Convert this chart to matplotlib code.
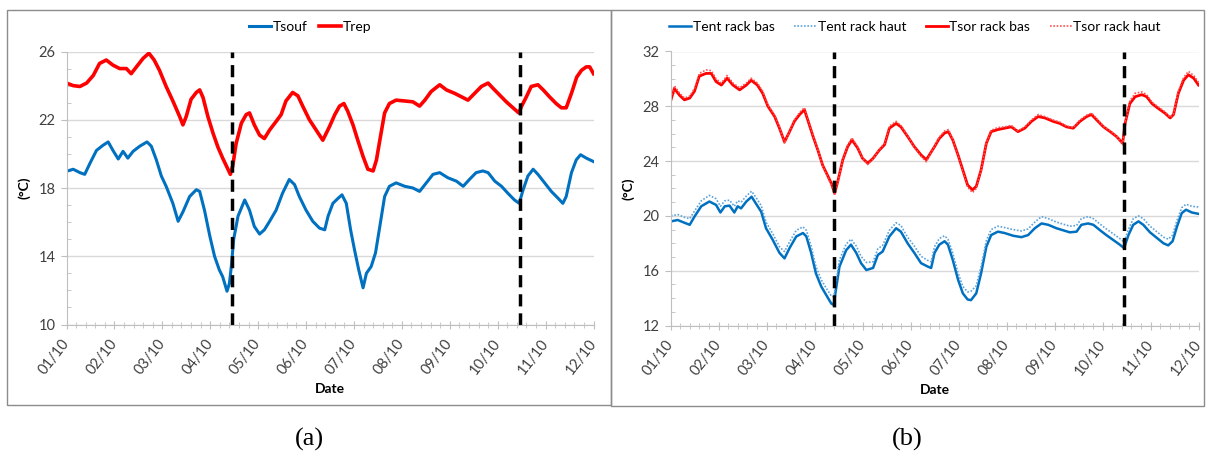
import matplotlib
matplotlib.use('Agg')
import matplotlib.pyplot as plt
from matplotlib.patches import Rectangle
from matplotlib.ticker import MultipleLocator

plt.rcParams['font.family'] = ['Lato', 'DejaVu Sans']

# jours (0 = 01/10) et températures
jours_lbl = ['01/10', '02/10', '03/10', '04/10', '05/10', '06/10',
             '07/10', '08/10', '09/10', '10/10', '11/10', '12/10']

# (a) Trep
t_rep = [0, .14, .28, .42, .56, .69, .83, .97, 1.11, 1.25, 1.35, 1.46, 1.6, 1.72, 1.83, 1.94,
         2.08, 2.22, 2.36, 2.43, 2.5, 2.6, 2.71, 2.78, 2.85, 2.95, 3.06, 3.16, 3.26, 3.37, 3.42,
         3.47, 3.54, 3.65, 3.75, 3.82, 3.92, 4.03, 4.13, 4.24, 4.375, 4.48, 4.58, 4.72, 4.83,
         4.93, 5.07, 5.21, 5.35, 5.49, 5.6, 5.7, 5.79, 5.87, 5.98, 6.08, 6.19, 6.29, 6.4, 6.47,
         6.54, 6.64, 6.74, 6.88, 7.06, 7.23, 7.37, 7.48, 7.61, 7.79, 7.93, 8.1, 8.24, 8.38,
         8.52, 8.66, 8.8, 8.9, 9.04, 9.18, 9.32, 9.44, 9.5, 9.6, 9.7, 9.84, 9.95, 10.08, 10.22,
         10.33, 10.43, 10.54, 10.65, 10.75, 10.85, 10.92, 11.0]
trep = [24.15, 24.0, 23.95, 24.15, 24.6, 25.3, 25.5, 25.2, 25.0, 25.0, 24.7, 25.1, 25.6, 25.9,
        25.5, 24.9, 23.95, 23.1, 22.2, 21.7, 22.2, 23.2, 23.6, 23.75, 23.3, 22.2, 21.2, 20.4,
        19.75, 19.1, 18.8, 19.3, 20.6, 21.8, 22.3, 22.4, 21.7, 21.1, 20.9, 21.4, 21.9, 22.3,
        23.1, 23.6, 23.4, 22.8, 22.0, 21.4, 20.8, 21.6, 22.3, 22.8, 22.95, 22.5, 21.7, 20.8,
        19.85, 19.1, 19.0, 19.65, 20.8, 22.4, 22.95, 23.15, 23.1, 23.05, 22.8, 23.15, 23.65,
        24.05, 23.75, 23.55, 23.35, 23.15, 23.55, 23.95, 24.15, 23.85, 23.45, 23.05, 22.7,
        22.4, 22.8, 23.35, 23.95, 24.05, 23.75, 23.35, 22.95, 22.7, 22.7, 23.55, 24.5, 24.9,
        25.1, 25.1, 24.7]

# (a) Tsouf
t_souf = [0, .14, .28, .38, .49, .625, .76, .87, .97, 1.08, 1.18, 1.28, 1.39, 1.53, 1.68, 1.77,
          1.875, 1.98, 2.08, 2.22, 2.33, 2.43, 2.57, 2.71, 2.78, 2.88, 2.99, 3.09, 3.19, 3.26,
          3.35, 3.40, 3.44, 3.49, 3.58, 3.72, 3.82, 3.92, 4.03, 4.13, 4.24, 4.375, 4.51, 4.65,
          4.76, 4.86, 5.0, 5.14, 5.28, 5.39, 5.46, 5.56, 5.67, 5.75, 5.84, 5.93, 6.01, 6.1,
          6.19, 6.26, 6.36, 6.45, 6.54, 6.64, 6.74, 6.88, 7.06, 7.23, 7.37, 7.51, 7.65, 7.79,
          7.96, 8.14, 8.28, 8.41, 8.55, 8.69, 8.8, 8.94, 9.08, 9.21, 9.35, 9.45, 9.52, 9.63,
          9.74, 9.84, 9.98, 10.12, 10.26, 10.36, 10.43, 10.54, 10.64, 10.73, 10.85, 11.0]
tsouf = [18.98, 19.1, 18.9, 18.8, 19.45, 20.2, 20.5, 20.7, 20.2, 19.7, 20.15, 19.75, 20.15,
         20.45, 20.7, 20.45, 19.65, 18.7, 18.1, 17.1, 16.05, 16.6, 17.5, 17.9, 17.8, 16.7,
         15.2, 14.0, 13.2, 12.8, 11.95, 12.4, 13.4, 15.0, 16.35, 17.3, 16.7, 15.75, 15.3,
         15.55, 16.05, 16.7, 17.7, 18.5, 18.2, 17.5, 16.7, 16.05, 15.65, 15.55, 16.35, 17.1,
         17.4, 17.6, 17.1, 15.55, 14.4, 13.2, 12.15, 13.0, 13.4, 14.2, 15.75, 17.5, 18.1, 18.3,
         18.1, 18.0, 17.8, 18.3, 18.8, 18.9, 18.6, 18.4, 18.1, 18.5, 18.9, 19.0, 18.9, 18.4,
         18.1, 17.7, 17.3, 17.1, 17.8, 18.7, 19.1, 18.8, 18.3, 17.8, 17.4, 17.1, 17.5, 18.9,
         19.65, 19.95, 19.75, 19.55]

# (b) Tsor rack bas / haut
t_sor = [0.01, .08, .19, .29, .40, .5, .6, .74, .85, .95, 1.06, 1.18, 1.3, 1.44, 1.58, 1.68,
         1.81, 1.92, 2.03, 2.17, 2.27, 2.375, 2.48, 2.58, 2.69, 2.79, 2.86, 2.97, 3.07, 3.17,
         3.28, 3.36, 3.42, 3.49, 3.59, 3.69, 3.78, 3.9, 4.0, 4.11, 4.22, 4.35, 4.46, 4.56, 4.7,
         4.8, 4.94, 5.08, 5.22, 5.33, 5.5, 5.6, 5.71, 5.79, 5.88, 5.99, 6.09, 6.19, 6.29, 6.37,
         6.47, 6.58, 6.68, 6.82, 6.96, 7.1, 7.24, 7.38, 7.52, 7.66, 7.8, 7.97, 8.11, 8.25,
         8.39, 8.53, 8.67, 8.77, 8.88, 9.02, 9.16, 9.29, 9.42, 9.47, 9.57, 9.68, 9.82, 9.92,
         10.03, 10.16, 10.3, 10.41, 10.48, 10.58, 10.69, 10.79, 10.9, 11.0]
tsor_bas = [28.47, 29.3, 28.8, 28.47, 28.6, 29.1, 30.2, 30.4, 30.4, 29.8, 29.55, 30.05, 29.55,
            29.2, 29.55, 29.9, 29.55, 28.95, 28.0, 27.25, 26.4, 25.4, 26.15, 26.9, 27.4, 27.75,
            27.0, 25.8, 24.8, 23.7, 22.9, 22.3, 21.65, 22.6, 24.1, 25.05, 25.55, 24.95, 24.2,
            23.85, 24.2, 24.8, 25.2, 26.4, 26.75, 26.5, 25.8, 25.05, 24.45, 24.1, 25.05, 25.65,
            26.05, 26.15, 25.55, 24.45, 23.35, 22.25, 21.9, 22.15, 23.35, 25.3, 26.15, 26.3,
            26.4, 26.5, 26.15, 26.4, 26.9, 27.25, 27.15, 26.9, 26.75, 26.5, 26.4, 26.9, 27.25,
            27.4, 27.0, 26.5, 26.15, 25.8, 25.3, 26.75, 28.2, 28.7, 28.85, 28.7, 28.2, 27.85,
            27.5, 27.15, 27.4, 28.95, 29.9, 30.3, 30.05, 29.55]
tsor_haut = [28.6, 29.5, 28.95, 28.6, 28.75, 29.3, 30.4, 30.65, 30.6, 30.0, 29.7, 30.25, 29.7,
             29.35, 29.7, 30.05, 29.7, 29.1, 28.1, 27.35, 26.5, 25.3, 26.2, 27.0, 27.55, 27.9,
             27.1, 25.85, 24.85, 23.65, 22.8, 22.15, 21.5, 22.5, 24.15, 25.15, 25.7, 25.05,
             24.2, 23.75, 24.15, 24.85, 25.3, 26.55, 26.9, 26.6, 25.85, 25.0, 24.35, 23.95,
             25.1, 25.75, 26.2, 26.3, 25.6, 24.4, 23.25, 22.1, 21.7, 22.0, 23.3, 25.35, 26.25,
             26.45, 26.5, 26.6, 26.2, 26.5, 27.0, 27.4, 27.25, 27.0, 26.85, 26.55, 26.45, 27.0,
             27.35, 27.5, 27.1, 26.55, 26.2, 25.85, 25.2, 26.8, 28.4, 28.95, 29.05, 28.85, 28.3,
             27.95, 27.6, 27.2, 27.45, 29.1, 30.1, 30.55, 30.25, 29.75]

# (b) Tent rack bas / haut
t_ent = [0.01, .15, .29, .40, .5, .64, .81, .95, 1.04, 1.13, 1.23, 1.33, 1.40, 1.47, 1.58, 1.69,
         1.78, 1.89, 1.99, 2.13, 2.27, 2.375, 2.48, 2.62, 2.76, 2.83, 2.93, 3.03, 3.14, 3.24,
         3.35, 3.40, 3.45, 3.52, 3.66, 3.76, 3.87, 3.97, 4.08, 4.22, 4.32, 4.42, 4.56, 4.7,
         4.8, 4.94, 5.08, 5.22, 5.36, 5.43, 5.5, 5.6, 5.71, 5.78, 5.88, 5.99, 6.09, 6.19, 6.26,
         6.37, 6.47, 6.58, 6.68, 6.82, 6.96, 7.14, 7.31, 7.45, 7.59, 7.73, 7.87, 8.04, 8.18,
         8.32, 8.46, 8.56, 8.7, 8.81, 8.95, 9.08, 9.22, 9.36, 9.45, 9.54, 9.64, 9.75, 9.85,
         9.99, 10.13, 10.27, 10.37, 10.46, 10.55, 10.65, 10.74, 10.86, 11.0]
tent_bas = [19.6, 19.7, 19.5, 19.35, 19.95, 20.7, 21.05, 20.8, 20.25, 20.7, 20.75, 20.25, 20.7,
            20.55, 21.05, 21.4, 20.9, 20.3, 19.1, 18.25, 17.3, 16.9, 17.65, 18.5, 18.75, 18.5,
            17.3, 15.8, 14.85, 14.25, 13.6, 13.5, 14.7, 16.3, 17.5, 17.9, 17.3, 16.55, 16.05,
            16.2, 17.15, 17.4, 18.5, 19.1, 18.85, 18.0, 17.3, 16.55, 16.3, 16.2, 17.3, 17.9,
            18.15, 17.9, 16.8, 15.35, 14.35, 13.9, 13.85, 14.35, 15.8, 17.75, 18.6, 18.85,
            18.75, 18.55, 18.45, 18.6, 19.1, 19.45, 19.35, 19.1, 18.95, 18.8, 18.85, 19.35,
            19.45, 19.35, 18.95, 18.6, 18.25, 17.9, 17.65, 18.6, 19.35, 19.6, 19.35, 18.8, 18.4,
            18.0, 17.85, 18.15, 19.2, 20.2, 20.45, 20.25, 20.15]
tent_haut = [20.0, 20.1, 19.9, 19.8, 20.35, 21.1, 21.5, 21.25, 20.7, 21.1, 21.15, 20.7, 21.1,
             21.0, 21.45, 21.8, 21.35, 20.75, 19.55, 18.7, 17.75, 17.4, 18.1, 18.95, 19.2,
             18.95, 17.8, 16.3, 15.35, 14.75, 14.15, 14.1, 15.2, 16.8, 17.95, 18.3, 17.8, 17.05,
             16.6, 16.65, 17.6, 17.85, 18.95, 19.5, 19.3, 18.45, 17.8, 17.05, 16.75, 16.65,
             17.75, 18.35, 18.55, 18.3, 17.3, 15.85, 14.85, 14.45, 14.5, 14.9, 16.3, 18.2, 19.0,
             19.25, 19.15, 19.0, 18.9, 19.05, 19.55, 19.95, 19.8, 19.55, 19.4, 19.25, 19.3,
             19.8, 19.95, 19.8, 19.4, 19.05, 18.7, 18.35, 18.1, 19.0, 19.8, 20.0, 19.8, 19.25,
             18.85, 18.45, 18.3, 18.6, 19.65, 20.6, 20.85, 20.7, 20.65]

# coupures (lignes pointillées verticales)
coupures_a = [3.45, 9.47]
coupures_b = [3.40, 9.45]

BLEU = '#0070C0'
ROUGE = '#FF0000'
GRIS_TXT = '#404040'

fig = plt.figure(figsize=(12.06, 4.54), dpi=100)
W, H = 1206, 454


def px_axes(x0, x1, y0, y1):
    return fig.add_axes([x0 / W, 1 - y1 / H, (x1 - x0) / W, (y1 - y0) / H])


def habiller(ax, ymin, ymax):
    ax.set_xlim(0, 11)
    ax.set_ylim(ymin, ymax)
    ax.set_xticks(range(12))
    ax.set_xticklabels(jours_lbl, rotation=52, ha='right', va='center', rotation_mode='anchor',
                       fontsize=10.5, color=GRIS_TXT)
    ax.xaxis.set_minor_locator(MultipleLocator(0.2))
    ax.set_yticks(range(ymin, ymax + 1, 4))
    ax.yaxis.set_minor_locator(MultipleLocator(1))
    ax.tick_params(axis='y', labelsize=10.5, labelcolor=GRIS_TXT, color='#bfbfbf', length=4, pad=4)
    ax.tick_params(axis='y', which='minor', color='#bfbfbf', length=3, direction='in')
    ax.tick_params(axis='x', color='#bfbfbf', length=6, pad=9, direction='inout')
    ax.tick_params(axis='x', which='minor', color='#bfbfbf', length=4, direction='inout')
    ax.grid(axis='y', color='#d9d9d9', linewidth=1)
    ax.set_axisbelow(True)
    for s in ['top', 'right']:
        ax.spines[s].set_visible(False)
    for s in ['left', 'bottom']:
        ax.spines[s].set_color('#bfbfbf')
    ax.set_xlabel('Date', fontsize=10, fontweight='bold', labelpad=4)
    ax.set_ylabel('(°C)', fontsize=10, fontweight='bold', labelpad=6)


# cadres
fig.patches.append(Rectangle((7 / W, 1 - 405 / H), 604 / W, 395 / H, transform=fig.transFigure,
                             fill=False, edgecolor='#8c8c8c', linewidth=1))
fig.patches.append(Rectangle((611 / W, 1 - 406 / H), 593 / W, 396 / H, transform=fig.transFigure,
                             fill=False, edgecolor='#8c8c8c', linewidth=1))

# ---- (a)
ax1 = px_axes(66.5, 593.5, 51.5, 324.5)
l1, = ax1.plot(t_souf, tsouf, color=BLEU, linewidth=2.2, label='Tsouf')
l2, = ax1.plot(t_rep, trep, color=ROUGE, linewidth=2.6, label='Trep')
for c in coupures_a:
    ax1.axvline(c, color='black', linewidth=2.5, linestyle=(0, (3.5, 2)))
habiller(ax1, 10, 26)
fig.legend(handles=[l1, l2], loc='center', bbox_to_anchor=(310 / W, 1 - 27 / H), ncol=2,
           frameon=False, fontsize=10, handlelength=1.6, handletextpad=0.1, columnspacing=0.8)

# ---- (b)
ax2 = px_axes(670.5, 1198.5, 51.5, 325.5)
m1, = ax2.plot(t_ent, tent_bas, color=BLEU, linewidth=1.8, label='Tent rack bas')
m2, = ax2.plot(t_ent, tent_haut, color='#5BA3DC', linewidth=1.2, linestyle=(0, (1, 1)),
               label='Tent rack haut')
m3, = ax2.plot(t_sor, tsor_bas, color=ROUGE, linewidth=2.0, label='Tsor rack bas')
m4, = ax2.plot(t_sor, tsor_haut, color='#FF5050', linewidth=1.2, linestyle=(0, (1, 1)),
               label='Tsor rack haut')
for c in coupures_b:
    ax2.axvline(c, color='black', linewidth=2.5, linestyle=(0, (3.5, 2)))
habiller(ax2, 12, 32)
fig.legend(handles=[m1, m2, m3, m4], loc='center', bbox_to_anchor=(915 / W, 1 - 27 / H), ncol=4,
           frameon=False, fontsize=10, handlelength=1.6, handletextpad=0.1, columnspacing=1.4)

# sous-titres
fig.text(309 / W, 1 - 439 / H, '(a)', ha='center', va='center', fontsize=19,
         family='Liberation Serif')
fig.text(907 / W, 1 - 439 / H, '(b)', ha='center', va='center', fontsize=19,
         family='Liberation Serif')

fig.savefig('out.png', dpi=100)
